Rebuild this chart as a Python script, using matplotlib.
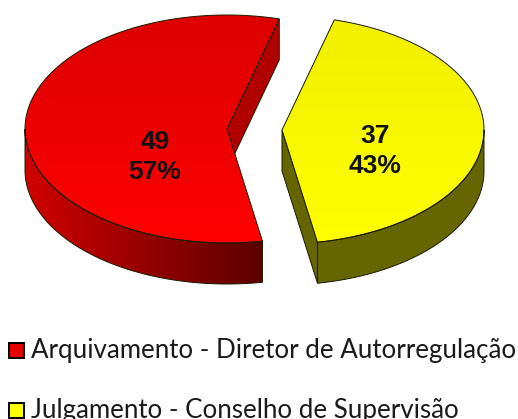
# Exploded 3D style pie chart, drawn on a pixel sized axes

import matplotlib
matplotlib.use("Agg")
import matplotlib.pyplot as plt
import numpy as np
from matplotlib.colors import LinearSegmentedColormap
from matplotlib.patches import Polygon, Rectangle

categories = ["Arquivamento - Diretor de Autorregulação",
              "Julgamento - Conselho de Supervisão"]
values = [49, 37]

RX, RY, DEPTH = 202, 114, 41
CENTERS = [(227, 129), (282, 130)]
START_ANGLE = 75.0
EDGE = "#1a1a00"


def ellipse_points(center, a1, a2, n=200):
    """Points along the rim between two angles (degrees, counter clockwise)."""
    t = np.radians(np.linspace(a1, a2, n))
    return np.column_stack([center[0] + RX * np.cos(t), center[1] - RY * np.sin(t)])


def gradient_fill(ax, poly, colors, horizontal, extent):
    """Fills a polygon with a linear gradient, clipped to its outline."""
    cmap = LinearSegmentedColormap.from_list("g", colors)
    ramp = np.linspace(0, 1, 256)
    ramp = ramp[None, :] if horizontal else ramp[:, None]
    patch = Polygon(poly, closed=True, fc="none", ec="none")
    ax.add_patch(patch)
    img = ax.imshow(ramp, cmap=cmap, extent=extent, aspect="auto", origin="upper")
    img.set_clip_path(patch)
    ax.add_patch(Polygon(poly, closed=True, fc="none", ec=EDGE, lw=0.7))


def draw_slice(ax, center, a1, a2, top_colors, side_colors, wall_color):
    cx, cy = center
    rim = ellipse_points(center, a1, a2)
    face = np.vstack([[cx, cy], rim])
    x0, x1 = cx - RX, cx + RX
    y0, y1 = cy - RY, cy + RY

    # inner wall at the start angle, images sit at zorder 0 so keep it under them
    tip = ellipse_points(center, a1, a1, 1)[0]
    wall = [(cx, cy), tip, (tip[0], tip[1] + DEPTH), (cx, cy + DEPTH)]
    ax.add_patch(Polygon(wall, closed=True, fc=wall_color, ec=EDGE, lw=0.7, zorder=-1))

    # outer rim, only the part facing the viewer
    lo, hi = max(a1, 180), min(a2, 360)
    front = ellipse_points(center, lo, hi)
    side = np.vstack([front, front[::-1] + [0, DEPTH]])
    gradient_fill(ax, side, side_colors, True, (front[:, 0].min(), front[:, 0].max(), y1 + DEPTH, y0))

    gradient_fill(ax, face, top_colors, False, (x0, x1, y1, y0))


fig = plt.figure(figsize=(5.18, 4.19), dpi=100)
ax = fig.add_axes([0, 0, 1, 1])

angles = np.array(values) / sum(values) * 360
red_end = START_ANGLE + angles[0]
yellow_end = red_end + angles[1]

draw_slice(ax, CENTERS[0], START_ANGLE, red_end,
           ["#dc0000", "#ff0000"], ["#d00000", "#5c0000"], "#b00000")
draw_slice(ax, CENTERS[1], red_end, yellow_end,
           ["#f0f000", "#ffff00"], ["#666600", "#666600"], "#666600")

# data labels
label_pos = [(155, 157), (375, 151)]
for pos, v in zip(label_pos, values):
    pct = round(v / sum(values) * 100)
    ax.text(pos[0], pos[1], f"{v}\n{pct}%", ha="center", va="center", fontsize=19,
            fontweight="bold", family="Liberation Sans", color="#111111", linespacing=1.35)

# legend
legend_colors = ["#e60000", "#ffff00"]
legend_y = [350, 410]
for name, color, y in zip(categories, legend_colors, legend_y):
    ax.add_patch(Rectangle((9, y - 7.5), 15, 15, fc=color, ec="black", lw=1.4))
    ax.text(31, y + 8, name, ha="left", va="baseline", fontsize=18.6,
            family="Lato", color="#1a1a1a")

ax.set_xlim(0, 518)
ax.set_ylim(419, 0)
ax.axis("off")
fig.savefig("out.png", dpi=100)
